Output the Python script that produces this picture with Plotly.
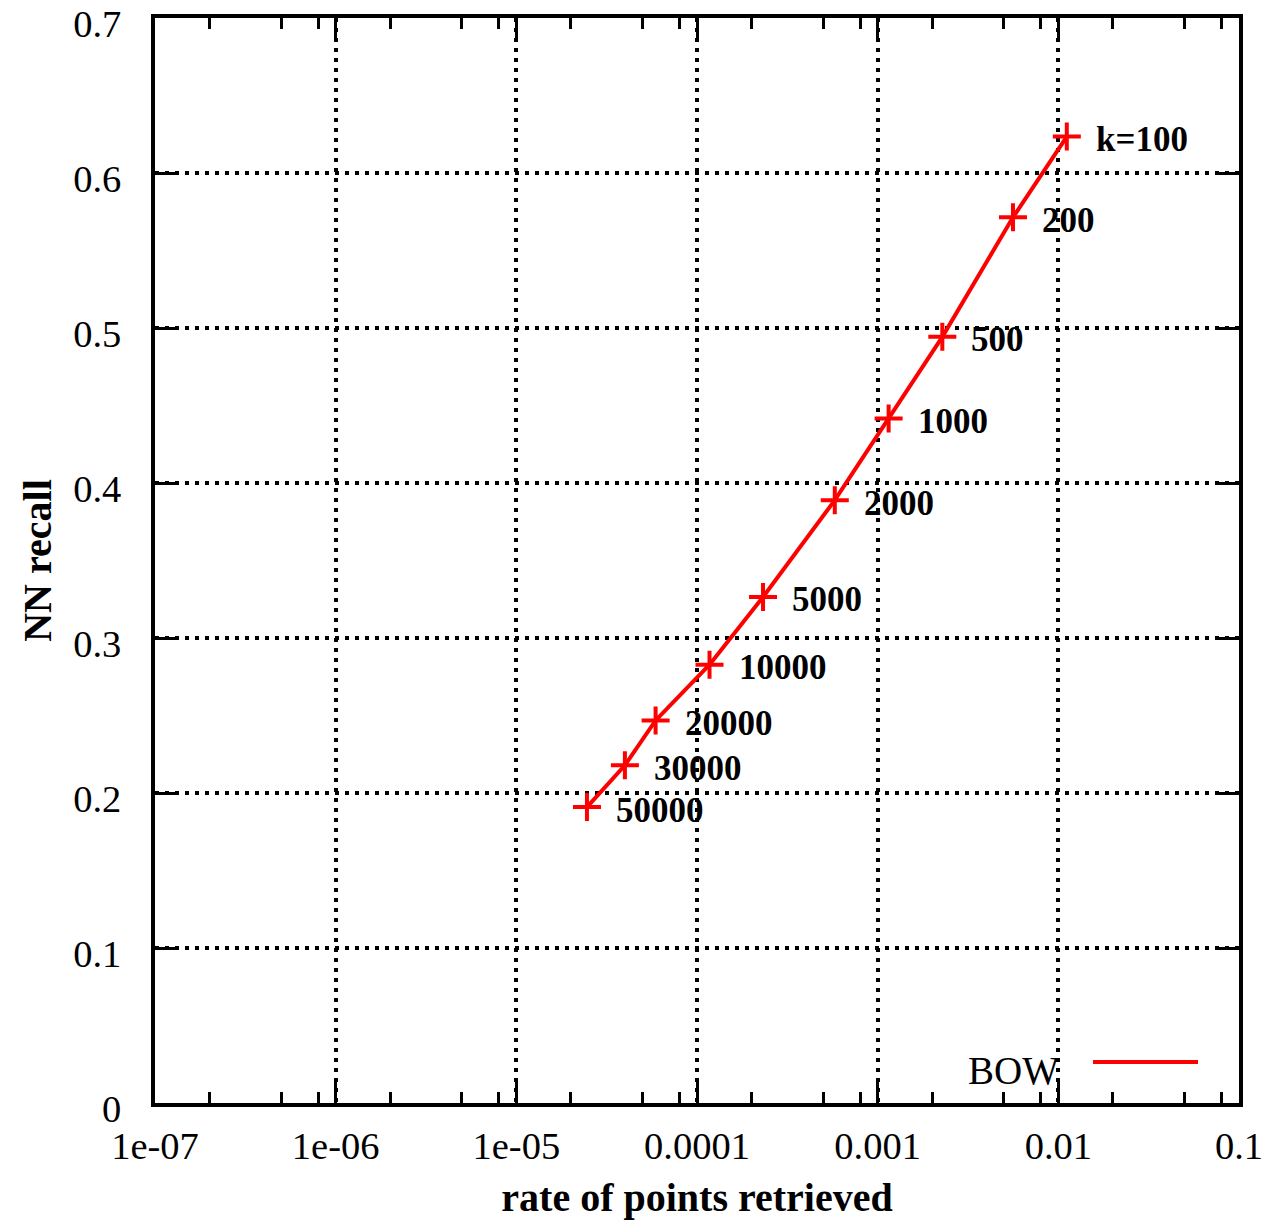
import math
import plotly.graph_objects as go

# ---- data ----
k_labels = ["k=100", "200", "500", "1000", "2000", "5000", "10000", "20000", "30000", "50000"]
rate = [0.01114, 0.00561, 0.00228, 0.00115, 0.000579, 0.000232, 0.0001173, 5.9e-05, 3.99e-05, 2.46e-05]
recall = [0.6235, 0.5714, 0.4943, 0.4416, 0.3889, 0.3265, 0.2828, 0.2468, 0.2179, 0.1909]
series_name = "BOW"

x_tickvals = [1e-7, 1e-6, 1e-5, 1e-4, 1e-3, 1e-2, 1e-1]
x_ticktext = ["1e-07", "1e-06", "1e-05", "0.0001", "0.001", "0.01", "0.1"]
x_minor = [m * d for d in [1e-7, 1e-6, 1e-5, 1e-4, 1e-3, 1e-2] for m in (2, 5, 8)]
y_tickvals = [0, 0.1, 0.2, 0.3, 0.4, 0.5, 0.6, 0.7]
y_ticktext = ["0", "0.1", "0.2", "0.3", "0.4", "0.5", "0.6", "0.7"]

FONT = "Liberation Serif"
RED = "#ff0000"

fig = go.Figure()
fig.add_trace(go.Scatter(
    x=rate, y=recall, mode="lines+markers", name=series_name,
    line=dict(color=RED, width=4),
    marker=dict(symbol="cross-thin", size=20, line=dict(color=RED, width=4), color=RED),
    showlegend=False,
))

# point labels (annotation x on a log axis is given in log10 units)
for xv, yv, t in zip(rate, recall, k_labels):
    fig.add_annotation(x=math.log10(xv), y=yv, xref="x", yref="y", text="<b>%s</b>" % t,
                       showarrow=False, xanchor="left", yanchor="middle",
                       xshift=27, yshift=-3,
                       font=dict(family=FONT, size=35, color="black"))

# legend (text left of sample, gnuplot style)
fig.add_annotation(x=0.836, y=0.0304, xref="paper", yref="paper", text=series_name,
                   showarrow=False, xanchor="right", yanchor="middle",
                   font=dict(family=FONT, size=39, color="black"))
fig.add_shape(type="line", xref="paper", yref="paper", x0=0.8653, x1=0.9622,
              y0=0.0378, y1=0.0378, line=dict(color=RED, width=4))

axis_common = dict(
    showline=True, linecolor="black", linewidth=4, mirror="allticks",
    ticks="inside", tickcolor="black", tickwidth=3, ticklen=22,
    showgrid=True, gridcolor="black", gridwidth=3.5, griddash="3.5px,6.5px",
    zeroline=False, automargin=False, ticklabeloverflow="allow",
    tickfont=dict(family=FONT, size=38.5, color="black"),
)

fig.update_xaxes(
    type="log", range=[-7, -1],
    tickmode="array", tickvals=x_tickvals, ticktext=x_ticktext,
    minor=dict(tickvals=x_minor, ticks="inside", ticklen=11, tickwidth=3,
               tickcolor="black", showgrid=False),
    ticklabelstandoff=6,
    title=dict(text="<b>rate of points retrieved</b>", standoff=18,
               font=dict(family=FONT, size=40, color="black")),
    **axis_common,
)
fig.update_yaxes(
    range=[0, 0.7],
    tickmode="array", tickvals=y_tickvals, ticktext=y_ticktext,
    ticklabelstandoff=22, ticklabelshift=6,
    title=dict(text="<b>NN recall</b>", standoff=10,
               font=dict(family=FONT, size=40, color="black")),
    **axis_common,
)

# page body has an 8px margin, so the figure is 8px smaller than the window
fig.update_layout(
    width=1262, height=1216,
    margin=dict(l=147, r=31, t=10, b=121),
    paper_bgcolor="white", plot_bgcolor="white",
    font=dict(family=FONT, color="black"),
)

fig.write_html("out.html")
